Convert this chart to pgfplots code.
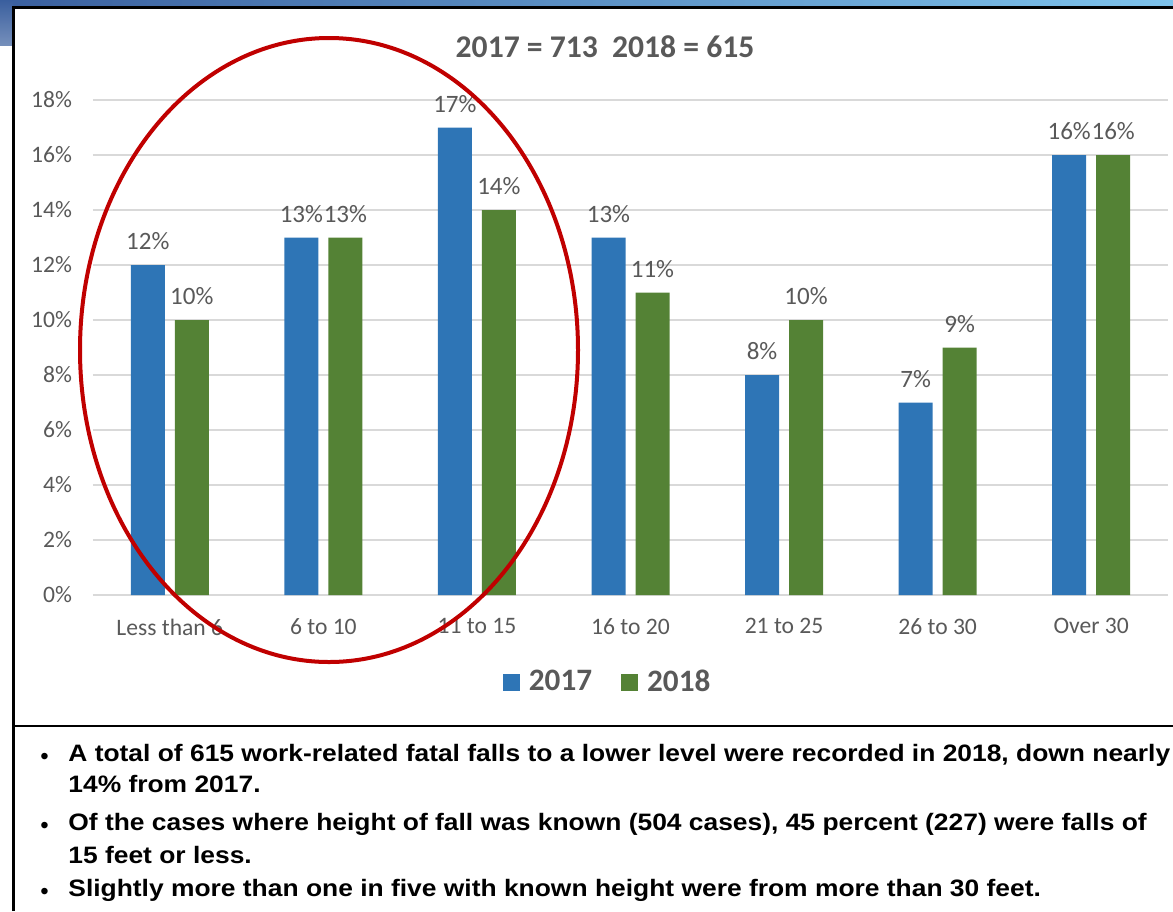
\documentclass[border=0pt]{standalone}
\usepackage{fontspec}
\setmainfont{Carlito}
\newfontfamily\arialf{Liberation Sans}
\usepackage{pgfplots}
\pgfplotsset{compat=1.18}
\definecolor{cblue}{HTML}{2E75B6}
\definecolor{cgreen}{HTML}{548235}
\definecolor{cgray}{HTML}{595959}
\definecolor{cgrid}{HTML}{D9D9D9}
\definecolor{cred}{HTML}{C00000}
\definecolor{banddark}{HTML}{3A5F9E}
\definecolor{bandlight}{HTML}{7EC3EC}
\newcommand{\sq}[1]{\scalebox{1}[0.9]{#1}}
\begin{document}
\begin{tikzpicture}[x=0.5pt,y=-0.5pt]
\useasboundingbox (0,0) rectangle (1173,911);
\shade[left color=banddark, right color=bandlight] (0,0) rectangle (1173,7);
\shade[top color=banddark, bottom color=banddark!70!white] (0,0) rectangle (13,45);
\begin{axis}[
  at={(46.5pt,-297.5pt)}, anchor=south west,
  scale only axis, width=537.5pt, height=247.5pt,
  xmin=-0.5, xmax=6.5, ymin=0, ymax=18,
  ytick={0,2,...,18},
  xtick={0,...,6},
  xticklabels={Less than 6, 6 to 10, 11 to 15, 16 to 20, 21 to 25, 26 to 30, Over 30},
  /pgf/number format/assume math mode=true,
  yticklabel={\pgfmathprintnumber{\tick}\%},
  ymajorgrids, grid style={cgrid, line width=0.8pt},
  axis line style={draw=none},
  major tick style={draw=none},
  tick label style={font=\fontsize{11.8}{13}\selectfont, text=cgray},
  yticklabel style={xshift=-7pt},
  xticklabel style={yshift=-4pt},
  ybar, bar width=17pt,
  nodes near coords={\pgfmathprintnumber{\pgfplotspointmeta}\%},
  every node near coord/.append style={font=\fontsize{12.5}{14}\selectfont, text=cgray, yshift=4pt},
  legend style={at={(0.482,-0.176)}, anchor=center, draw=none, fill=none,
    legend columns=2, font=\bfseries\fontsize{15.6}{18}\selectfont, text=cgray,
    nodes={inner xsep=4.5pt},
    /tikz/every even column/.append style={column sep=10pt}},
  legend image code/.code={\path[#1] (0pt,-4.25pt) rectangle (8.5pt,4.25pt);},
]
\addplot[fill=cblue, draw=none, bar shift=-11pt] coordinates {(0,12) (1,13) (2,17) (3,13) (4,8) (5,7) (6,16)};
\addplot[fill=cgreen, draw=none, bar shift=11pt] coordinates {(0,10) (1,13) (2,14) (3,11) (4,10) (5,9) (6,16)};
\legend{2017, 2018}
\end{axis}
\node[font=\bfseries\fontsize{15.8}{18}\selectfont, text=cgray] at (605,47) {2017 = 713\ \ 2018 = 615};
\draw[cred, line width=2pt] (329,350) ellipse [x radius=249, y radius=312];
\draw[line width=1.5pt] (13,911) -- (13,7) -- (1173,7);
\draw[line width=1.3pt] (13,726) -- (1173,726);
\begin{scope}[every node/.style={anchor=base west, inner sep=0pt, font=\arialf\bfseries\fontsize{13.2}{15}\selectfont}]
\node at (68,761) {\sq{A total of 615 work-related fatal falls to a lower level were recorded in 2018, down nearly}};
\node at (68,792) {\sq{14\% from 2017.}};
\node at (68,830) {\sq{Of the cases where height of fall was known (504 cases), 45 percent (227) were falls of}};
\node at (68,863) {\sq{15 feet or less.}};
\node at (68,896) {\sq{Slightly more than one in five with known height were from more than 30 feet.}};
\end{scope}
\begin{scope}[every node/.style={anchor=base west, inner sep=0pt, font=\arialf\fontsize{12}{13}\selectfont}]
\node at (40,764) {•};
\node at (40,833) {•};
\node at (40,899) {•};
\end{scope}
\end{tikzpicture}
\end{document}
